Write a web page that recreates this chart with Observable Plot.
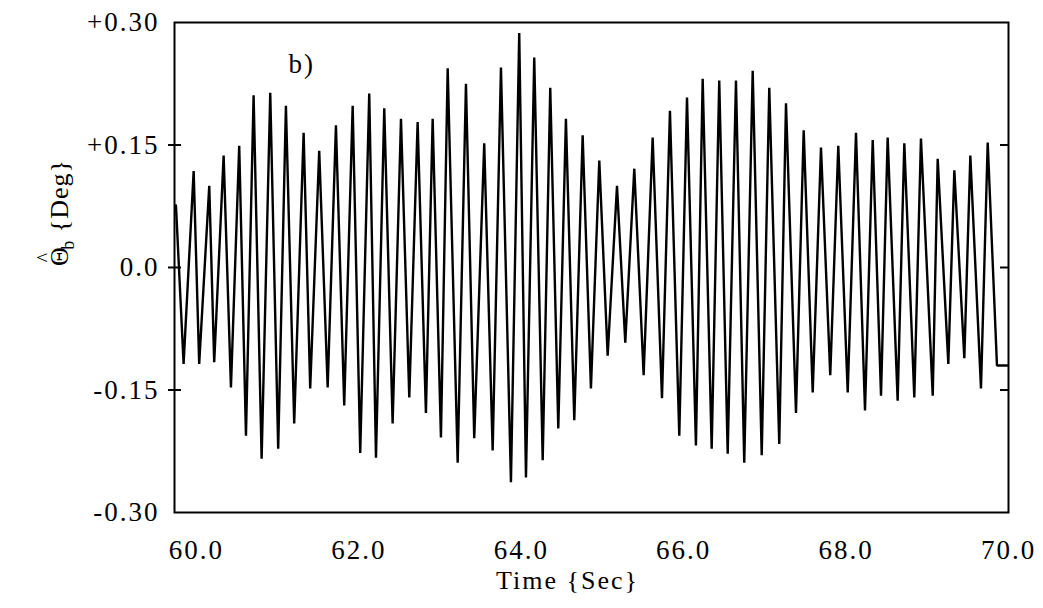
<!DOCTYPE html>
<html>
<head>
<meta charset="utf-8">
<script src="https://cdn.jsdelivr.net/npm/d3@7"></script>
<script src="https://cdn.jsdelivr.net/npm/@observablehq/plot@0.6"></script>
<style>
  html, body { margin: 0; padding: 0; background: #fff; }
  #chart { width: 1043px; height: 608px; }
</style>
</head>
<body>
<div id="chart"></div>
<script>
// Time (s) of each turning point of the trace
const times = [
  59.748, 59.842, 59.966, 60.034, 60.158, 60.219, 60.335, 60.425, 60.527, 60.610,
  60.704, 60.803, 60.909, 61.007, 61.102, 61.204, 61.320, 61.401, 61.512, 61.616,
  61.718, 61.820, 61.924, 62.017, 62.128, 62.211, 62.313, 62.416, 62.519, 62.621,
  62.724, 62.826, 62.909, 63.011, 63.094, 63.217, 63.319, 63.421, 63.544, 63.648,
  63.750, 63.873, 63.975, 64.058, 64.160, 64.264, 64.357, 64.456, 64.550, 64.653,
  64.756, 64.858, 64.961, 65.064, 65.179, 65.281, 65.392, 65.507, 65.618, 65.733,
  65.831, 65.946, 66.041, 66.151, 66.234, 66.345, 66.438, 66.542, 66.644, 66.746,
  66.850, 66.961, 67.054, 67.177, 67.260, 67.383, 67.478, 67.589, 67.691, 67.805,
  67.904, 68.020, 68.122, 68.233, 68.328, 68.430, 68.512, 68.635, 68.717, 68.840,
  68.922, 69.067, 69.128, 69.259, 69.333, 69.456, 69.530, 69.661, 69.744, 69.858,
  69.982
];
// Angle (deg) at each of those points
const angles = [
  0.076, -0.118, 0.118, -0.118, 0.100, -0.116, 0.137, -0.147, 0.149, -0.206,
  0.211, -0.234, 0.214, -0.222, 0.198, -0.191, 0.165, -0.148, 0.143, -0.147,
  0.174, -0.169, 0.198, -0.227, 0.213, -0.233, 0.195, -0.191, 0.182, -0.159,
  0.178, -0.178, 0.182, -0.208, 0.244, -0.239, 0.225, -0.209, 0.152, -0.224,
  0.245, -0.263, 0.287, -0.257, 0.257, -0.236, 0.220, -0.197, 0.182, -0.187,
  0.162, -0.148, 0.131, -0.108, 0.100, -0.092, 0.121, -0.132, 0.159, -0.160,
  0.192, -0.206, 0.208, -0.218, 0.231, -0.222, 0.229, -0.228, 0.229, -0.239,
  0.241, -0.230, 0.220, -0.216, 0.201, -0.178, 0.168, -0.153, 0.147, -0.132,
  0.149, -0.153, 0.165, -0.175, 0.156, -0.157, 0.159, -0.163, 0.152, -0.159,
  0.158, -0.157, 0.133, -0.118, 0.119, -0.111, 0.137, -0.148, 0.153, -0.120,
  -0.120
];

const xTickValues = [60, 62, 64, 66, 68, 70];
const xTickLabels = ["60.0", "62.0", "64.0", "66.0", "68.0", "70.0"];
const yTickValues = [-0.30, -0.15, 0.0, 0.15, 0.30];
const yTickLabels = ["-0.30", "-0.15", "0.0", "+0.15", "+0.30"];
const yInnerTicks = [-0.15, 0.0, 0.15];
const xDomain = [59.73, 70.0];
const yDomain = [-0.30, 0.30];
const panelLabel = "b)";
const xLabel = "Time {Sec}";

const data = times.map((t, i) => ({t, v: angles[i]}));
const fontFamily = "'Liberation Serif', 'DejaVu Serif', serif";

const plot = Plot.plot({
  width: 1043,
  height: 608,
  marginLeft: 174,
  marginRight: 35,
  marginTop: 22,
  marginBottom: 96,
  style: {fontFamily, fontSize: "27px", color: "#000", background: "#fff", letterSpacing: "2px"},
  x: {domain: xDomain},
  y: {domain: yDomain},
  marks: [
    Plot.line(data, {x: "t", y: "v", stroke: "#000", strokeWidth: 2.4, strokeLinejoin: "miter"}),
    Plot.frame({stroke: "#000", strokeWidth: 2}),
    Plot.axisX(xTickValues, {anchor: "bottom", tickSize: 0, tickPadding: 27, fontSize: 27,
      tickFormat: (d) => xTickLabels[xTickValues.indexOf(d)], label: null}),
    Plot.axisY(yTickValues, {anchor: "left", tickSize: 0, tickPadding: 15, fontSize: 27,
      tickFormat: (d) => yTickLabels[yTickValues.indexOf(d)], label: null}),
    Plot.axisY(yInnerTicks, {anchor: "left", tickSize: 13, dx: 7, strokeWidth: 2,
      tickFormat: () => "", label: null}),
    Plot.axisY(yInnerTicks, {anchor: "right", tickSize: 9, dx: -9, strokeWidth: 2,
      tickFormat: () => "", label: null}),
    Plot.text([panelLabel], {frameAnchor: "top-left", dx: 114, dy: 31, textAnchor: "start",
      fontSize: 27, fill: "#000"}),
    Plot.text([xLabel], {frameAnchor: "bottom", dx: -24, dy: 76, fontSize: 26, fill: "#000"})
  ]
});

document.getElementById("chart").appendChild(plot);

// Y-axis label: Theta with a hat, subscript b, then {Deg}
const svg = d3.select(plot);
const yl = svg.append("text")
  .attr("transform", "translate(68,266) rotate(-90)")
  .attr("text-anchor", "start")
  .style("font-family", fontFamily)
  .style("font-size", "26px")
  .style("letter-spacing", "1px")
  .attr("fill", "#000");
yl.append("tspan").text("Θ");
yl.append("tspan").attr("dx", -16).attr("dy", -17).style("font-size", "20px").text("^");
yl.append("tspan").attr("dx", 2).attr("dy", 23).style("font-size", "18px").text("b");
yl.append("tspan").attr("dy", -6).text(" {Deg}");
</script>
</body>
</html>
